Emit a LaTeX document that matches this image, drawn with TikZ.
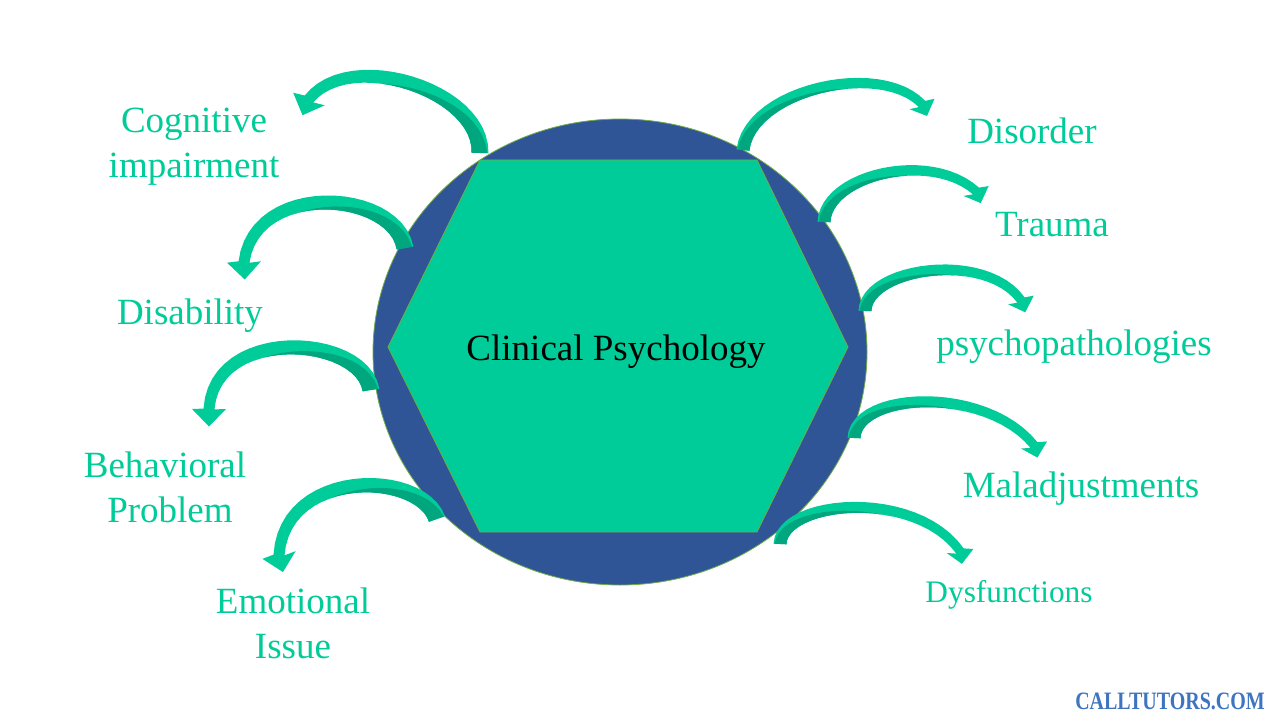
\documentclass[tikz,border=0pt]{standalone}
\usepackage{fontspec}
\setmainfont{Liberation Serif}
\definecolor{tgreen}{HTML}{00CC99}
\definecolor{dgreen}{HTML}{00A67D}
\definecolor{cblue}{HTML}{2F5597}
\definecolor{rimgreen}{HTML}{70AD47}
\definecolor{wblue}{HTML}{3E74C0}
\def\cawa{8.5}\def\cawb{5.5}\def\caH{17}\def\caL{17.5}
% curved arrow: P0 P1 P2 P3 (cubic midline, px), extra head turn (deg)
\newcommand\carr[9]{%
  \pgfmathsetmacro\cacross{(#3-#1)/100*(#8-#2)-(#4-#2)/100*(#7-#1)}%
  \pgfmathsetmacro\casig{ifthenelse(\cacross<0,1,-1)}%
  \foreach \ci in {0,...,24}{%
    \pgfmathsetmacro\cat{\ci/24}%
    \pgfmathsetmacro\cau{1-\cat}%
    \pgfmathsetmacro\cbx{\cau*\cau*\cau*#1+3*\cau*\cau*\cat*#3+3*\cau*\cat*\cat*#5+\cat*\cat*\cat*#7}%
    \pgfmathsetmacro\cby{\cau*\cau*\cau*#2+3*\cau*\cau*\cat*#4+3*\cau*\cat*\cat*#6+\cat*\cat*\cat*#8}%
    \pgfmathsetmacro\cdx{(3*\cau*\cau*(#3-#1)+6*\cau*\cat*(#5-#3)+3*\cat*\cat*(#7-#5))/100}%
    \pgfmathsetmacro\cdy{(3*\cau*\cau*(#4-#2)+6*\cau*\cat*(#6-#4)+3*\cat*\cat*(#8-#6))/100}%
    \pgfmathsetmacro\cnn{sqrt(\cdx*\cdx+\cdy*\cdy)}%
    \pgfmathsetmacro\cnx{-1*(\cdy)/\cnn*(\casig)}%
    \pgfmathsetmacro\cny{(\cdx)/\cnn*(\casig)}%
    \pgfmathsetmacro\cw{\cawa+(\cawb-\cawa)*\cat}%
    \pgfmathsetmacro\cs{max(-1,0.85-3*\cat)}%
    \pgfmathsetmacro\cox{\cbx+\cw*(\cnx)}%
    \pgfmathsetmacro\coy{\cby+\cw*(\cny)}%
    \pgfmathsetmacro\cix{\cbx-\cw*(\cnx)}%
    \pgfmathsetmacro\ciy{\cby-\cw*(\cny)}%
    \pgfmathsetmacro\cmx{\cbx+\cs*\cw*(\cnx)}%
    \pgfmathsetmacro\cmy{\cby+\cs*\cw*(\cny)}%
    \coordinate (O\ci) at (\cox,\coy);
    \coordinate (I\ci) at (\cix,\ciy);
    \coordinate (M\ci) at (\cmx,\cmy);
  }%
  \pgfmathsetmacro\ctx{(#7-#5)/100}%
  \pgfmathsetmacro\cty{(#8-#6)/100}%
  \pgfmathsetmacro\ctn{sqrt(\ctx*\ctx+\cty*\cty)}%
  \pgfmathsetmacro\crot{-1*(\casig)*(#9)}%
  \pgfmathsetmacro\crx{(\ctx*cos(\crot)-\cty*sin(\crot))/\ctn}%
  \pgfmathsetmacro\cry{(\ctx*sin(\crot)+\cty*cos(\crot))/\ctn}%
  \pgfmathsetmacro\chnx{-1*(\cry)*(\casig)}%
  \pgfmathsetmacro\chny{(\crx)*(\casig)}%
  \pgfmathsetmacro\chox{#7+\caH*(\chnx)}%
  \pgfmathsetmacro\choy{#8+\caH*(\chny)}%
  \pgfmathsetmacro\chix{#7-\caH*(\chnx)}%
  \pgfmathsetmacro\chiy{#8-\caH*(\chny)}%
  \pgfmathsetmacro\chtx{#7+\caL*(\crx)}%
  \pgfmathsetmacro\chty{#8+\caL*(\cry)}%
  \coordinate (HO) at (\chox,\choy);
  \coordinate (HI) at (\chix,\chiy);
  \coordinate (HT) at (\chtx,\chty);
  \fill[tgreen] (O0) \foreach \ci in {1,...,24}{-- (O\ci)} -- (HO) -- (HT) -- (HI)
     \foreach \ci in {24,23,...,0}{-- (I\ci)} -- cycle;
  \fill[dgreen] (I0) \foreach \ci in {1,...,16}{-- (I\ci)}
     \foreach \ci in {16,15,...,0}{-- (M\ci)} -- cycle;
}
\tikzset{
  lbl/.style={text=tgreen,anchor=base,inner sep=0pt,font=\fontsize{27.75}{33}\selectfont},
  sml/.style={text=tgreen,anchor=base,inner sep=0pt,font=\fontsize{23.5}{28}\selectfont},
  ctr/.style={text=black,anchor=base,inner sep=0pt,font=\fontsize{27.75}{33}\selectfont},
  rim/.style={draw=rimgreen,line width=0.6pt}
}
\begin{document}
\begin{tikzpicture}[x=0.75pt,y=-0.75pt]
\useasboundingbox (0,0) rectangle (1280,720);
\fill[white] (0,0) rectangle (1280,720);
% central disc and hexagon
\filldraw[rim,fill=cblue] (620,352) ellipse [x radius=247, y radius=233];
\filldraw[rim,fill=tgreen] (388,347) -- (480,160) -- (757,160) -- (848,347) -- (757,532) -- (480,532) -- cycle;
\node[ctr] (center) at (616,360) {Clinical Psychology};
% left arrows
\def\cawa{8.5}\def\cawb{5.5}\def\caH{17}\def\caL{17.5}
\carr{480}{153}{482}{90}{350}{48}{309}{99}{17}
\carr{405}{248}{395}{190}{255}{180}{244}{262}{10}
\carr{371}{390}{362}{335}{215}{325}{209}{409}{4}
\carr{437}{519}{420}{470}{285}{468}{279}{555}{17}
% right arrows
\def\cawa{6.5}\def\cawb{4.5}\def\caH{13.5}\def\caL{13}
\carr{743}{150}{750}{90}{880}{60}{922}{104}{21}
\carr{824}{222}{826}{175}{930}{150}{976}{191}{27}
\carr{865}{311}{866}{268}{985}{250}{1021}{300}{17}
\carr{854}{438}{856}{392}{985}{385}{1034}{445}{24}
\carr{780}{544}{782}{500}{915}{488}{960}{551}{27}
% labels
\node[lbl] (cog1) at (194,133) {Cognitive};
\node[lbl] (cog2) at (194,178) {impairment};
\node[lbl] (dis) at (190,324) {Disability};
\node[lbl] (beh1) at (165,477) {Behavioral};
\node[lbl] (beh2) at (170,522) {Problem};
\node[lbl] (emo1) at (293,613) {Emotional};
\node[lbl] (emo2) at (293,658) {Issue};
\node[lbl] (disord) at (1032,144) {Disorder};
\node[lbl] (trauma) at (1052,237) {Trauma};
\node[lbl] (psy) at (1074,355) {psychopathologies};
\node[lbl] (mal) at (1081,497) {Maladjustments};
\node[sml] (dys) at (1009,602) {Dysfunctions};
\node[anchor=base,inner sep=0pt,text=wblue,xscale=0.8,font=\fontsize{18.75}{22}\selectfont\bfseries] (wm) at (1170,709) {CALLTUTORS.COM};
\end{tikzpicture}
\end{document}
